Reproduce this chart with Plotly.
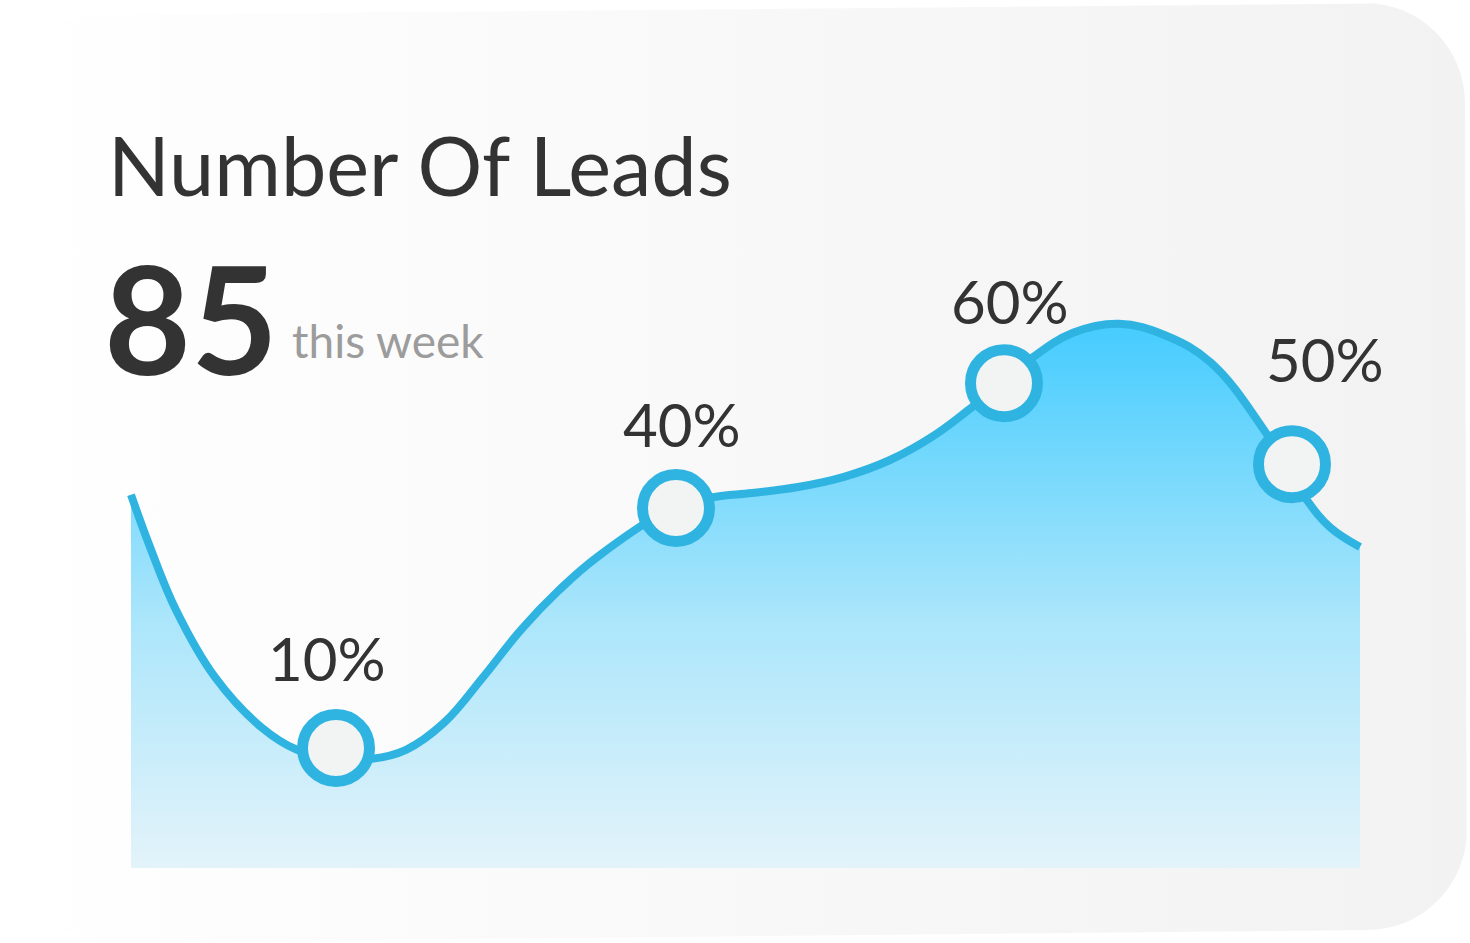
import math
import plotly.graph_objects as go

# ---------------- data ----------------
# smooth curve (x in chart units, y in chart level units)
curve_x = [13.1, 15.0, 17.6, 21.5, 26.1, 29.7, 33.6, 37.2, 40.6, 44.4,
           48.3, 52.1, 55.9, 59.7, 67.6, 71.3, 75.2, 79.8, 84.4,
           89.0, 93.5, 97.2, 100.3, 103.2, 107.3, 111.9, 116.5, 121.1,
           126.6, 130.7, 133.0, 136.0]
curve_y = [62.2, 53.5, 43.0, 31.8, 23.5, 19.7, 18.3, 18.2, 19.7, 24.2,
           31.8, 39.7, 46.3, 51.8, 60.3, 61.8, 62.5, 63.5, 65.2,
           68.0, 72.2, 76.8, 80.8, 85.0, 89.2, 90.7, 88.8, 84.2,
           72.5, 61.3, 56.8, 53.5]

# highlighted points and their labels
point_x = [33.6, 67.6, 100.4, 129.2]
point_y = [20.0, 60.0, 80.8, 67.3]
point_labels = ["10%", "40%", "60%", "50%"]

title_text = "Number Of Leads"
total_value = "85"
total_caption = "this week"

# ---------------- layout helpers ----------------
W, H = 1470, 943
X_PER_PX = 0.1          # chart x-units per pixel
Y_PER_PX = 1 / 6.0      # chart y-units per pixel
BASE_PX = 868           # pixel row of level 0
X_RANGE = [0, W * X_PER_PX]
Y_RANGE = [(BASE_PX - H) * Y_PER_PX, BASE_PX * Y_PER_PX]


def px2x(px):
    return px * X_PER_PX


def px2y(py):
    return (BASE_PX - py) * Y_PER_PX


def arc(cx, cy, r, a0, a1, n=16):
    pts = []
    for i in range(n + 1):
        a = math.radians(a0 + (a1 - a0) * i / n)
        pts.append((cx + r * math.cos(a), cy - r * math.sin(a)))
    return pts


# card outline (decorative background, pixel space)
card = []
card += arc(100, 115, 100, 180, 90)       # top-left
card += arc(1365, 103, 100, 90, 0)        # top-right
card += arc(1367, 830, 100, 0, -90)       # bottom-right
card += arc(112, 843, 100, -90, -180)     # bottom-left
card.append(card[0])
card_x = [px2x(p[0]) for p in card]
card_y = [px2y(p[1]) for p in card]

LINE_COLOR = "#2fb4e2"

fig = go.Figure()

# card background
fig.add_trace(go.Scatter(
    x=card_x, y=card_y, mode="lines", fill="toself",
    line=dict(width=0, color="rgba(0,0,0,0)"),
    fillgradient=dict(type="horizontal",
                      colorscale=[[0, "#ffffff"], [0.45, "#f9f9f9"], [1, "#f2f2f2"]]),
    hoverinfo="skip", showlegend=False,
))

# area + line
fig.add_trace(go.Scatter(
    x=curve_x, y=curve_y, mode="lines",
    line=dict(shape="spline", smoothing=1.1, color=LINE_COLOR, width=8),
    fill="tozeroy",
    fillgradient=dict(type="vertical",
                      colorscale=[[0, "#e3f3fa"], [0.45, "#ace6fb"], [1, "#45ccfe"]]),
    hoverinfo="skip", showlegend=False,
))

# markers
fig.add_trace(go.Scatter(
    x=point_x, y=point_y, mode="markers",
    marker=dict(size=67, color="#f2f4f4", line=dict(color=LINE_COLOR, width=11)),
    hoverinfo="skip", showlegend=False,
))

# point labels
label_shift_x = [-9, 6, 6, 33]
label_shift_y = [90, 84, 82, 105]
for x, y, t, sx, sy in zip(point_x, point_y, point_labels, label_shift_x, label_shift_y):
    fig.add_annotation(x=x, y=y, text=t, showarrow=False, xshift=sx, yshift=sy,
                       xanchor="center", yanchor="middle",
                       font=dict(family="Lato", size=60, color="#333333"))

# header texts
fig.add_annotation(xref="paper", yref="paper", x=106 / W, y=1 - 164 / H,
                   text=title_text, showarrow=False, xanchor="left", yanchor="middle",
                   font=dict(family="Lato", size=81, color="#333333"))
fig.add_annotation(xref="paper", yref="paper", x=102 / W, y=1 - 317 / H,
                   text="<b>" + total_value + "</b>", showarrow=False,
                   xanchor="left", yanchor="middle",
                   font=dict(family="Lato", size=150, color="#333333"))
fig.add_annotation(xref="paper", yref="paper", x=290 / W, y=1 - 340 / H,
                   text=total_caption, showarrow=False, xanchor="left", yanchor="middle",
                   font=dict(family="Lato", size=46, color="#9c9c9c"))

fig.update_layout(
    width=W, height=H,
    margin=dict(l=0, r=0, t=0, b=0),
    paper_bgcolor="#ffffff", plot_bgcolor="rgba(0,0,0,0)",
    xaxis=dict(range=X_RANGE, visible=False, fixedrange=True),
    yaxis=dict(range=Y_RANGE, visible=False, fixedrange=True),
    showlegend=False, hovermode=False,
)

fig.write_html("out.html", config={"displayModeBar": False},
               post_script="document.body.style.margin='0px';")
